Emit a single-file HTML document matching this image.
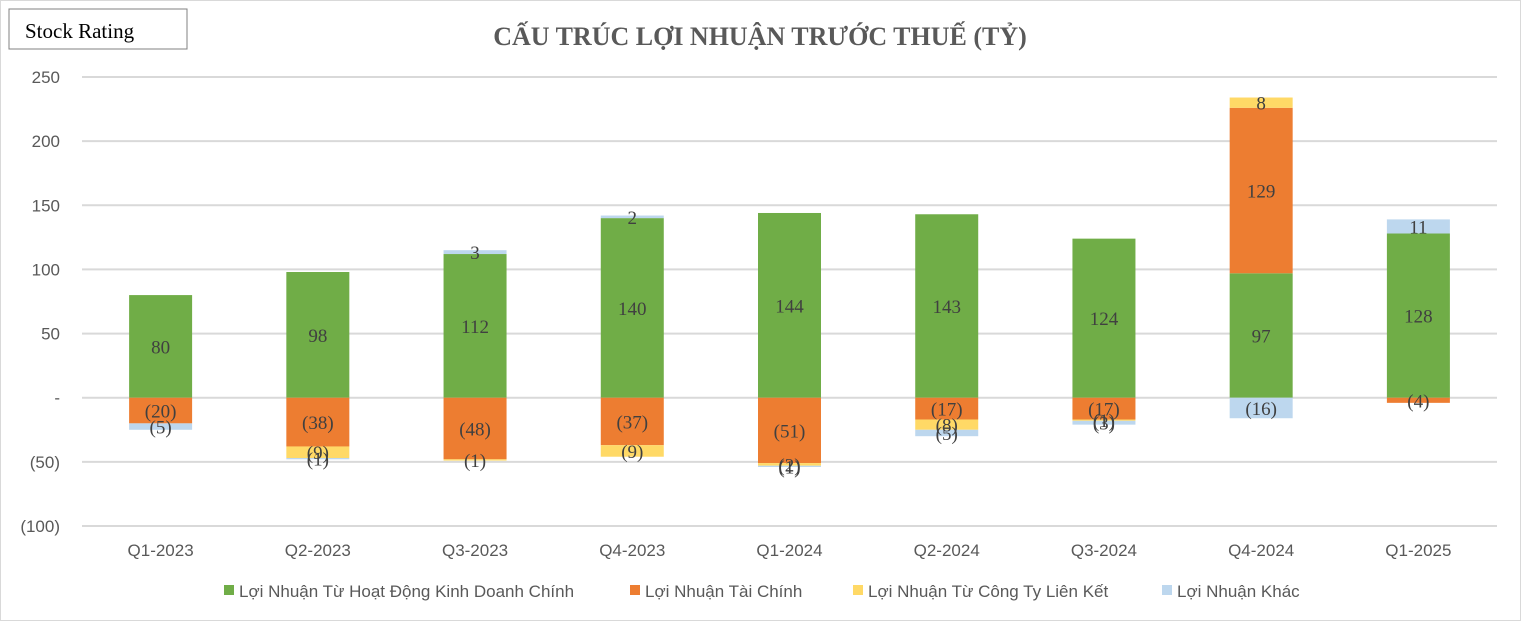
<!DOCTYPE html>
<html><head><meta charset="utf-8"><style>
body{margin:0;background:#fff;width:1521px;height:621px;overflow:hidden;font-family:"Liberation Sans",sans-serif}
</style></head><body>
<svg width="1521" height="621" xmlns="http://www.w3.org/2000/svg">
<rect x="0.5" y="0.5" width="1520" height="620" fill="#fff" stroke="#d9d9d9"/>
<rect x="9" y="9" width="178" height="40" fill="#fff" stroke="#808080"/>
<text x="25" y="38" font-family="Liberation Serif, serif" font-size="21" fill="#000">Stock Rating</text>
<text x="760" y="45" text-anchor="middle" font-family="Liberation Serif, serif" font-weight="bold" font-size="26" fill="#595959">CẤU TRÚC LỢI NHUẬN TRƯỚC THUẾ (TỶ)</text>
<g id="grid"></g><g id="bars"></g><g id="labels"></g><g id="legend"></g>
</svg>
<script>
const categories=["Q1-2023","Q2-2023","Q3-2023","Q4-2023","Q1-2024","Q2-2024","Q3-2024","Q4-2024","Q1-2025"];
const coreProfit=[80,98,112,140,144,143,124,97,128];
const financialProfit=[-20,-38,-48,-37,-51,-17,-17,129,-4];
const associateProfit=[0,-9,-1,-9,-2,-8,-1,8,0];
const otherProfit=[-5,-1,3,2,-1,-5,-3,-16,11];
const yTicks=[250,200,150,100,50,0,-50,-100];
const seriesNames=["Lợi Nhuận Từ Hoạt Động Kinh Doanh Chính","Lợi Nhuận Tài Chính","Lợi Nhuận Từ Công Ty Liên Kết","Lợi Nhuận Khác"];
const colors=["#70ad47","#ed7d31","#ffd966","#bdd7ee"];
const series=[coreProfit,financialProfit,associateProfit,otherProfit];
const NS="http://www.w3.org/2000/svg";
const x0=82,x1=1497,yMin=-100,yMax=250,pTop=77,pBot=526;
const y=v=>pTop+(yMax-v)/(yMax-yMin)*(pBot-pTop);
const band=(x1-x0)/categories.length;
const xc=i=>x0+band*(i+0.5);
const bw=63;
function mk(tag,attrs,parent){const e=document.createElementNS(NS,tag);for(const k in attrs)e.setAttribute(k,attrs[k]);parent.appendChild(e);return e;}
const fmt=v=>v===0?"-":(v<0?"("+Math.abs(v)+")":String(v));
const grid=document.getElementById('grid');
yTicks.forEach(t=>{
 const l=mk('line',{x1:x0,x2:x1,y1:y(t),y2:y(t),stroke:'#d9d9d9','stroke-width':2},grid);
 
 
 const tx=mk('text',{x:60,y:y(t)+6,'text-anchor':'end','font-size':17,fill:'#595959'},grid);
 tx.textContent=t===0?"-":fmt(t);
 
 
});
const bars=document.getElementById('bars'),labels=document.getElementById('labels');
categories.forEach((c,i)=>{
 let pos=0,neg=0;
 series.forEach((s,k)=>{
  const v=s[i];if(v===0)return;
  let a,b;
  if(v>0){a=pos;b=pos+v;pos=b;}else{a=neg;b=neg+v;neg=b;}
  const r=mk('rect',{x:xc(i)-bw/2,y:Math.min(y(a),y(b)),width:bw,height:Math.abs(y(a)-y(b)),fill:colors[k]},bars);
  
  
  const t=mk('text',{x:xc(i),y:(y(a)+y(b))/2+7,'text-anchor':'middle','font-family':'Liberation Serif, serif','font-size':19,fill:'#404040'},labels);
  t.textContent=fmt(v);
  
  
 });
 const xt=mk('text',{x:xc(i),y:556,'text-anchor':'middle','font-size':17,fill:'#595959'},labels);
 xt.textContent=c;
 
 
});
const lg=document.getElementById('legend');
const lx=[224,630,853,1162];
seriesNames.forEach((n,k)=>{
 const g=mk('g',{},lg);
 
 
 mk('rect',{x:lx[k],y:585,width:10,height:10,fill:colors[k]},g);
 const t=mk('text',{x:lx[k]+15,y:597,'font-size':17,fill:'#595959'},g);
 t.textContent=n;
});
</script>
</body></html>
